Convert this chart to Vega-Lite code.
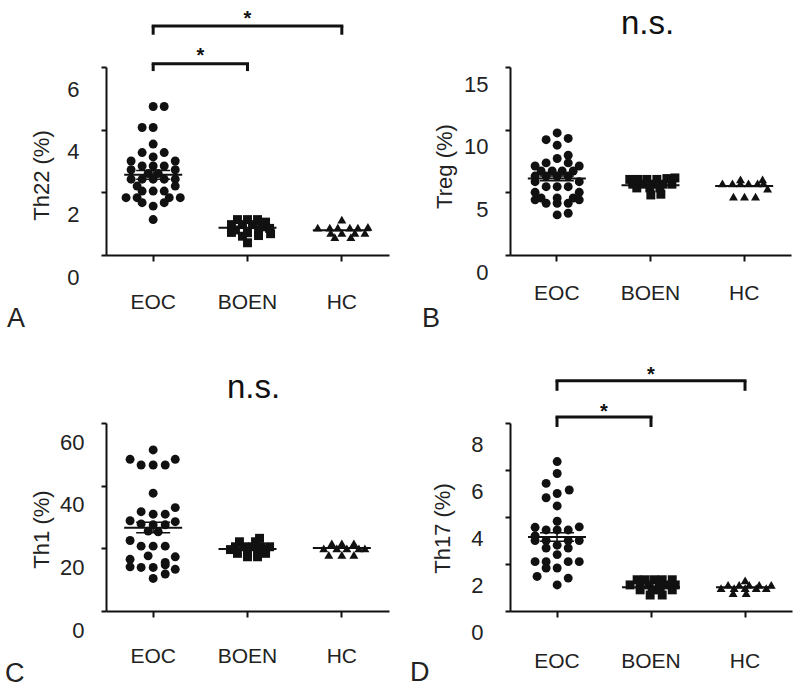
{
"$schema":"https://vega.github.io/schema/vega-lite/v6.json",
"padding":{"left":5,"top":8,"right":5,"bottom":0},
"background":"white",
"config":{"view":{"stroke":null},"font":"Liberation Sans",
"axis":{"domainColor":"#111","domainWidth":2,"tickColor":"#111","tickWidth":2,"labelColor":"#222","titleColor":"#222","labelFont":"Liberation Sans","titleFont":"Liberation Sans","titleFontWeight":"normal","grid":false,"labelFontSize":22,"titleFontSize":22,"labelOverlap":false},
"axisX":{"labelFontSize":21,"tickSize":6},
"axisY":{"tickSize":5},
"title":{"fontWeight":"normal","fontSize":27,"font":"Liberation Sans","color":"#222"}},
"datasets":{
"pts":[
{"p":"A","g":"EOC","v":4.74,"j":0},{"p":"A","g":"EOC","v":4.74,"j":11},{"p":"A","g":"EOC","v":4.07,"j":-11},{"p":"A","g":"EOC","v":4.07,"j":0},{"p":"A","g":"EOC","v":3.54,"j":0},{"p":"A","g":"EOC","v":3.27,"j":-11},{"p":"A","g":"EOC","v":3.27,"j":11},{"p":"A","g":"EOC","v":3.13,"j":0},{"p":"A","g":"EOC","v":3.0,"j":-22},{"p":"A","g":"EOC","v":3.0,"j":22},{"p":"A","g":"EOC","v":2.84,"j":-11},{"p":"A","g":"EOC","v":2.84,"j":0},{"p":"A","g":"EOC","v":2.84,"j":11},{"p":"A","g":"EOC","v":2.72,"j":-22},{"p":"A","g":"EOC","v":2.72,"j":22},{"p":"A","g":"EOC","v":2.6,"j":-5},{"p":"A","g":"EOC","v":2.6,"j":5},{"p":"A","g":"EOC","v":2.42,"j":-22},{"p":"A","g":"EOC","v":2.42,"j":-11},{"p":"A","g":"EOC","v":2.42,"j":0},{"p":"A","g":"EOC","v":2.42,"j":11},{"p":"A","g":"EOC","v":2.42,"j":22},{"p":"A","g":"EOC","v":2.2,"j":-16},{"p":"A","g":"EOC","v":2.2,"j":22},{"p":"A","g":"EOC","v":2.04,"j":-11},{"p":"A","g":"EOC","v":2.04,"j":0},{"p":"A","g":"EOC","v":2.04,"j":11},{"p":"A","g":"EOC","v":1.83,"j":-27},{"p":"A","g":"EOC","v":1.83,"j":-16},{"p":"A","g":"EOC","v":1.83,"j":16},{"p":"A","g":"EOC","v":1.83,"j":27},{"p":"A","g":"EOC","v":1.67,"j":-11},{"p":"A","g":"EOC","v":1.67,"j":11},{"p":"A","g":"EOC","v":1.56,"j":0},{"p":"A","g":"EOC","v":1.13,"j":0},
{"p":"A","g":"BOEN","v":1.13,"j":-10},{"p":"A","g":"BOEN","v":1.13,"j":0},{"p":"A","g":"BOEN","v":1.13,"j":10},{"p":"A","g":"BOEN","v":1.05,"j":18},{"p":"A","g":"BOEN","v":0.97,"j":-16},{"p":"A","g":"BOEN","v":0.97,"j":-5},{"p":"A","g":"BOEN","v":0.97,"j":5},{"p":"A","g":"BOEN","v":0.9,"j":14},{"p":"A","g":"BOEN","v":0.85,"j":22},{"p":"A","g":"BOEN","v":0.8,"j":-12},{"p":"A","g":"BOEN","v":0.72,"j":-16},{"p":"A","g":"BOEN","v":0.71,"j":0},{"p":"A","g":"BOEN","v":0.71,"j":11},{"p":"A","g":"BOEN","v":0.68,"j":23},{"p":"A","g":"BOEN","v":0.6,"j":-5},{"p":"A","g":"BOEN","v":0.62,"j":11},{"p":"A","g":"BOEN","v":0.39,"j":0},
{"p":"A","g":"HC","v":1.13,"j":0},{"p":"A","g":"HC","v":0.87,"j":-24},{"p":"A","g":"HC","v":0.87,"j":-12},{"p":"A","g":"HC","v":0.87,"j":-4},{"p":"A","g":"HC","v":0.87,"j":8},{"p":"A","g":"HC","v":0.87,"j":16},{"p":"A","g":"HC","v":0.9,"j":26},{"p":"A","g":"HC","v":0.71,"j":-11},{"p":"A","g":"HC","v":0.71,"j":0},{"p":"A","g":"HC","v":0.71,"j":13},{"p":"A","g":"HC","v":0.71,"j":23},{"p":"A","g":"HC","v":0.57,"j":-7},{"p":"A","g":"HC","v":0.57,"j":9},
{"p":"B","g":"EOC","v":9.74,"j":0},{"p":"B","g":"EOC","v":9.2,"j":-11},{"p":"B","g":"EOC","v":9.3,"j":11},{"p":"B","g":"EOC","v":8.76,"j":0},{"p":"B","g":"EOC","v":7.96,"j":11},{"p":"B","g":"EOC","v":7.7,"j":0},{"p":"B","g":"EOC","v":7.35,"j":-11},{"p":"B","g":"EOC","v":7.35,"j":11},{"p":"B","g":"EOC","v":7.1,"j":-22},{"p":"B","g":"EOC","v":7.1,"j":22},{"p":"B","g":"EOC","v":6.7,"j":-16},{"p":"B","g":"EOC","v":6.7,"j":-5},{"p":"B","g":"EOC","v":6.7,"j":5},{"p":"B","g":"EOC","v":6.7,"j":16},{"p":"B","g":"EOC","v":6.3,"j":-22},{"p":"B","g":"EOC","v":6.3,"j":-11},{"p":"B","g":"EOC","v":6.3,"j":0},{"p":"B","g":"EOC","v":6.3,"j":11},{"p":"B","g":"EOC","v":5.85,"j":-22},{"p":"B","g":"EOC","v":5.85,"j":22},{"p":"B","g":"EOC","v":5.45,"j":-11},{"p":"B","g":"EOC","v":5.45,"j":0},{"p":"B","g":"EOC","v":5.45,"j":11},{"p":"B","g":"EOC","v":5.0,"j":-22},{"p":"B","g":"EOC","v":5.0,"j":22},{"p":"B","g":"EOC","v":4.55,"j":-16},{"p":"B","g":"EOC","v":4.55,"j":0},{"p":"B","g":"EOC","v":4.55,"j":16},{"p":"B","g":"EOC","v":4.4,"j":-22},{"p":"B","g":"EOC","v":4.4,"j":22},{"p":"B","g":"EOC","v":4.13,"j":-11},{"p":"B","g":"EOC","v":4.13,"j":0},{"p":"B","g":"EOC","v":4.13,"j":11},{"p":"B","g":"EOC","v":3.2,"j":0},{"p":"B","g":"EOC","v":3.33,"j":11},
{"p":"B","g":"BOEN","v":6.03,"j":-21},{"p":"B","g":"BOEN","v":6.03,"j":-13},{"p":"B","g":"BOEN","v":6.03,"j":-4},{"p":"B","g":"BOEN","v":6.03,"j":6},{"p":"B","g":"BOEN","v":6.1,"j":16},{"p":"B","g":"BOEN","v":6.15,"j":24},{"p":"B","g":"BOEN","v":5.65,"j":-18},{"p":"B","g":"BOEN","v":5.65,"j":-8},{"p":"B","g":"BOEN","v":5.65,"j":2},{"p":"B","g":"BOEN","v":5.65,"j":12},{"p":"B","g":"BOEN","v":5.65,"j":21},{"p":"B","g":"BOEN","v":5.35,"j":-14},{"p":"B","g":"BOEN","v":5.35,"j":-1},{"p":"B","g":"BOEN","v":5.35,"j":9},{"p":"B","g":"BOEN","v":4.79,"j":0},{"p":"B","g":"BOEN","v":4.85,"j":10},
{"p":"B","g":"HC","v":5.71,"j":-22},{"p":"B","g":"HC","v":5.71,"j":-12},{"p":"B","g":"HC","v":5.71,"j":-4},{"p":"B","g":"HC","v":5.71,"j":4},{"p":"B","g":"HC","v":5.71,"j":13},{"p":"B","g":"HC","v":5.71,"j":19},{"p":"B","g":"HC","v":6.03,"j":-4},{"p":"B","g":"HC","v":6.03,"j":18},{"p":"B","g":"HC","v":5.3,"j":23},{"p":"B","g":"HC","v":4.66,"j":-11},{"p":"B","g":"HC","v":4.66,"j":0},{"p":"B","g":"HC","v":4.66,"j":11},
{"p":"C","g":"EOC","v":51.4,"j":0},{"p":"C","g":"EOC","v":48.4,"j":-23},{"p":"C","g":"EOC","v":48.4,"j":22},{"p":"C","g":"EOC","v":46.6,"j":-12},{"p":"C","g":"EOC","v":46.6,"j":0},{"p":"C","g":"EOC","v":46.6,"j":12},{"p":"C","g":"EOC","v":37.6,"j":0},{"p":"C","g":"EOC","v":33.0,"j":22},{"p":"C","g":"EOC","v":31.7,"j":-12},{"p":"C","g":"EOC","v":30.9,"j":0},{"p":"C","g":"EOC","v":30.9,"j":12},{"p":"C","g":"EOC","v":28.8,"j":-23},{"p":"C","g":"EOC","v":28.5,"j":22},{"p":"C","g":"EOC","v":27.8,"j":-12},{"p":"C","g":"EOC","v":27.5,"j":0},{"p":"C","g":"EOC","v":27.5,"j":12},{"p":"C","g":"EOC","v":25.5,"j":-5},{"p":"C","g":"EOC","v":25.3,"j":5},{"p":"C","g":"EOC","v":22.5,"j":-23},{"p":"C","g":"EOC","v":20.7,"j":-12},{"p":"C","g":"EOC","v":20.7,"j":0},{"p":"C","g":"EOC","v":20.7,"j":12},{"p":"C","g":"EOC","v":17.6,"j":-5},{"p":"C","g":"EOC","v":17.3,"j":22},{"p":"C","g":"EOC","v":16.5,"j":-23},{"p":"C","g":"EOC","v":15.5,"j":12},{"p":"C","g":"EOC","v":14.7,"j":12},{"p":"C","g":"EOC","v":14.1,"j":-23},{"p":"C","g":"EOC","v":13.9,"j":-12},{"p":"C","g":"EOC","v":13.9,"j":0},{"p":"C","g":"EOC","v":13.3,"j":22},{"p":"C","g":"EOC","v":11.8,"j":12},{"p":"C","g":"EOC","v":10.4,"j":0},
{"p":"C","g":"BOEN","v":23.2,"j":12},{"p":"C","g":"BOEN","v":22.1,"j":-8},{"p":"C","g":"BOEN","v":22.1,"j":8},{"p":"C","g":"BOEN","v":20.5,"j":-12},{"p":"C","g":"BOEN","v":20.5,"j":-3},{"p":"C","g":"BOEN","v":20.5,"j":5},{"p":"C","g":"BOEN","v":20.5,"j":13},{"p":"C","g":"BOEN","v":20.5,"j":22},{"p":"C","g":"BOEN","v":19.6,"j":-17},{"p":"C","g":"BOEN","v":19.6,"j":18},{"p":"C","g":"BOEN","v":18.4,"j":-10},{"p":"C","g":"BOEN","v":18.4,"j":0},{"p":"C","g":"BOEN","v":18.4,"j":10},{"p":"C","g":"BOEN","v":18.4,"j":18},{"p":"C","g":"BOEN","v":17.3,"j":0},{"p":"C","g":"BOEN","v":17.3,"j":10},
{"p":"C","g":"HC","v":21.6,"j":-10},{"p":"C","g":"HC","v":21.6,"j":0},{"p":"C","g":"HC","v":21.6,"j":12},{"p":"C","g":"HC","v":20.0,"j":-18},{"p":"C","g":"HC","v":20.0,"j":-5},{"p":"C","g":"HC","v":20.0,"j":5},{"p":"C","g":"HC","v":20.0,"j":17},{"p":"C","g":"HC","v":20.0,"j":23},{"p":"C","g":"HC","v":17.9,"j":-13},{"p":"C","g":"HC","v":17.9,"j":0},{"p":"C","g":"HC","v":17.9,"j":12},
{"p":"D","g":"EOC","v":6.36,"j":0},{"p":"D","g":"EOC","v":5.85,"j":0},{"p":"D","g":"EOC","v":5.43,"j":-11},{"p":"D","g":"EOC","v":5.15,"j":12},{"p":"D","g":"EOC","v":5.0,"j":0},{"p":"D","g":"EOC","v":4.82,"j":-11},{"p":"D","g":"EOC","v":4.47,"j":0},{"p":"D","g":"EOC","v":3.82,"j":0},{"p":"D","g":"EOC","v":3.56,"j":-22},{"p":"D","g":"EOC","v":3.58,"j":22},{"p":"D","g":"EOC","v":3.45,"j":-11},{"p":"D","g":"EOC","v":3.45,"j":0},{"p":"D","g":"EOC","v":3.45,"j":11},{"p":"D","g":"EOC","v":3.2,"j":-22},{"p":"D","g":"EOC","v":3.0,"j":-22},{"p":"D","g":"EOC","v":3.0,"j":-11},{"p":"D","g":"EOC","v":3.0,"j":11},{"p":"D","g":"EOC","v":3.0,"j":22},{"p":"D","g":"EOC","v":2.8,"j":0},{"p":"D","g":"EOC","v":2.68,"j":-11},{"p":"D","g":"EOC","v":2.68,"j":11},{"p":"D","g":"EOC","v":2.4,"j":0},{"p":"D","g":"EOC","v":2.1,"j":-22},{"p":"D","g":"EOC","v":2.1,"j":-11},{"p":"D","g":"EOC","v":2.1,"j":11},{"p":"D","g":"EOC","v":2.1,"j":22},{"p":"D","g":"EOC","v":1.83,"j":-11},{"p":"D","g":"EOC","v":1.83,"j":0},{"p":"D","g":"EOC","v":1.47,"j":-20},{"p":"D","g":"EOC","v":1.4,"j":11},{"p":"D","g":"EOC","v":1.11,"j":0},
{"p":"D","g":"BOEN","v":1.33,"j":-14},{"p":"D","g":"BOEN","v":1.33,"j":-6},{"p":"D","g":"BOEN","v":1.33,"j":3},{"p":"D","g":"BOEN","v":1.33,"j":11},{"p":"D","g":"BOEN","v":1.33,"j":21},{"p":"D","g":"BOEN","v":1.11,"j":-21},{"p":"D","g":"BOEN","v":1.11,"j":-11},{"p":"D","g":"BOEN","v":1.11,"j":-2},{"p":"D","g":"BOEN","v":1.11,"j":8},{"p":"D","g":"BOEN","v":1.11,"j":16},{"p":"D","g":"BOEN","v":1.11,"j":24},{"p":"D","g":"BOEN","v":0.9,"j":-11},{"p":"D","g":"BOEN","v":0.9,"j":1},{"p":"D","g":"BOEN","v":0.9,"j":9},{"p":"D","g":"BOEN","v":0.9,"j":21},{"p":"D","g":"BOEN","v":0.68,"j":-1},{"p":"D","g":"BOEN","v":0.68,"j":11},
{"p":"D","g":"HC","v":1.3,"j":0},{"p":"D","g":"HC","v":1.11,"j":-17},{"p":"D","g":"HC","v":1.11,"j":-6},{"p":"D","g":"HC","v":1.11,"j":4},{"p":"D","g":"HC","v":1.11,"j":14},{"p":"D","g":"HC","v":1.11,"j":26},{"p":"D","g":"HC","v":0.97,"j":-24},{"p":"D","g":"HC","v":0.97,"j":-11},{"p":"D","g":"HC","v":0.97,"j":0},{"p":"D","g":"HC","v":0.97,"j":11},{"p":"D","g":"HC","v":0.97,"j":21},{"p":"D","g":"HC","v":0.76,"j":-12},{"p":"D","g":"HC","v":0.76,"j":1}
],
"sum":[
{"p":"A","g":"EOC","m":2.56,"lo":2.42,"hi":2.7},{"p":"A","g":"BOEN","m":0.87},{"p":"A","g":"HC","m":0.79},
{"p":"B","g":"EOC","m":6.11,"lo":5.92,"hi":6.3},{"p":"B","g":"BOEN","m":5.56},{"p":"B","g":"HC","m":5.5},
{"p":"C","g":"EOC","m":26.6,"lo":25.0,"hi":28.3},{"p":"C","g":"BOEN","m":19.8},{"p":"C","g":"HC","m":20.1},
{"p":"D","g":"EOC","m":3.15,"lo":2.97,"hi":3.33},{"p":"D","g":"BOEN","m":1.01},{"p":"D","g":"HC","m":1.01}
],
"br":[
{"p":"A","k":"s","g1":"EOC","g2":"BOEN","y":6.1,"ye":5.87,"sx":"BOEN","sy":6.51,"t":"*"},
{"p":"A","k":"l","g1":"EOC","g2":"HC","y":7.31,"ye":7.03,"sx":"BOEN","sy":7.7,"t":"*"},
{"p":"D","k":"s","g1":"EOC","g2":"BOEN","y":8.26,"ye":7.83,"sx":"BOEN","sy":8.68,"t":"*"},
{"p":"D","k":"l","g1":"EOC","g2":"HC","y":9.8,"ye":9.37,"sx":"BOEN","sy":10.27,"t":"*"}
],
"ns":[
{"p":"B","sx":"BOEN","sy":17.6,"t":"n.s."},
{"p":"C","sx":"BOEN","sy":68,"t":"n.s."}
]
},
"bounds":"flush",
"columns":2,
"spacing":{"row":168,"column":121},
"concat":[
{"width":283,"height":188,
"title":{"text":"A","orient":"bottom","anchor":"start","frame":"group","dx":-99,"offset":15,"baseline":"alphabetic"},
"layer":[
{"data":{"name":"pts"},"transform":[{"filter":"datum.p === 'A'"}],
"mark":{"type":"point","filled":true,"opacity":1,"color":"#111","size":80,"strokeWidth":0},
"encoding":{
"x":{"field":"g","type":"nominal","scale":{"type":"band","domain":["EOC","BOEN","HC"],"paddingInner":0,"paddingOuter":0},"axis":{"title":null,"labelAngle":0,"labelPadding":30}},
"xOffset":{"field":"j","type":"quantitative","scale":{"domain":[-47,47]}},
"y":{"field":"v","type":"quantitative","scale":{"domain":[0,6],"nice":false},"axis":{"values":[0,2,4,6],"title":"Th22 (%)","labelOffset":22,"labelPadding":22,"titleX":-65,"titleY":108,"titleBaseline":"middle"}},
"shape":{"field":"g","type":"nominal","scale":{"domain":["EOC","BOEN","HC"],"range":["circle","square","triangle-up"]},"legend":null}}},
{"data":{"name":"sum"},"transform":[{"filter":"datum.p === 'A'"}],
"mark":{"type":"tick","color":"#111","opacity":1,"thickness":2,"size":58},
"encoding":{"x":{"field":"g","type":"nominal"},"y":{"field":"m","type":"quantitative"}}},
{"data":{"name":"sum"},"transform":[{"filter":"datum.p === 'A' && datum.g === 'EOC'"}],
"mark":{"type":"rule","color":"#111","strokeWidth":1.5},
"encoding":{"x":{"field":"g","type":"nominal"},"y":{"field":"lo","type":"quantitative"},"y2":{"field":"hi"}}},
{"data":{"name":"sum"},"transform":[{"filter":"datum.p === 'A' && datum.g === 'EOC'"}],
"mark":{"type":"tick","color":"#111","opacity":1,"thickness":1.5,"size":34},
"encoding":{"x":{"field":"g","type":"nominal"},"y":{"field":"lo","type":"quantitative"}}},
{"data":{"name":"sum"},"transform":[{"filter":"datum.p === 'A' && datum.g === 'EOC'"}],
"mark":{"type":"tick","color":"#111","opacity":1,"thickness":1.5,"size":34},
"encoding":{"x":{"field":"g","type":"nominal"},"y":{"field":"hi","type":"quantitative"}}},
{"data":{"name":"br"},"transform":[{"filter":"datum.p === 'A'"}],
"mark":{"type":"rule","color":"#111","strokeWidth":3,"strokeCap":"square"},
"encoding":{"x":{"field":"g1","type":"nominal","bandPosition":0.5},"x2":{"field":"g2","bandPosition":0.5},"y":{"field":"y","type":"quantitative"}}},
{"data":{"name":"br"},"transform":[{"filter":"datum.p === 'A'"}],
"mark":{"type":"rule","color":"#111","strokeWidth":3},
"encoding":{"x":{"field":"g1","type":"nominal","bandPosition":0.5},"y":{"field":"y","type":"quantitative"},"y2":{"field":"ye"}}},
{"data":{"name":"br"},"transform":[{"filter":"datum.p === 'A'"}],
"mark":{"type":"rule","color":"#111","strokeWidth":3},
"encoding":{"x":{"field":"g2","type":"nominal","bandPosition":0.5},"y":{"field":"y","type":"quantitative"},"y2":{"field":"ye"}}},
{"data":{"name":"br"},"transform":[{"filter":"datum.p === 'A' && datum.k === 's'"}],
"mark":{"type":"text","fontSize":20,"fontWeight":"bold","baseline":"middle","dy":5,"color":"#111"},
"encoding":{"x":{"field":"sx","type":"nominal","bandPosition":0},"y":{"field":"sy","type":"quantitative"},"text":{"field":"t"}}},
{"data":{"name":"br"},"transform":[{"filter":"datum.p === 'A' && datum.k === 'l'"}],
"mark":{"type":"text","fontSize":20,"fontWeight":"bold","baseline":"middle","dy":5,"color":"#111"},
"encoding":{"x":{"field":"sx","type":"nominal","bandPosition":0.5},"y":{"field":"sy","type":"quantitative"},"text":{"field":"t"}}}
]},
{"width":281,"height":188,
"title":{"text":"B","orient":"bottom","anchor":"start","frame":"group","dx":-88,"offset":24,"baseline":"alphabetic"},
"layer":[
{"data":{"name":"pts"},"transform":[{"filter":"datum.p === 'B'"}],
"mark":{"type":"point","filled":true,"opacity":1,"color":"#111","size":80,"strokeWidth":0},
"encoding":{
"x":{"field":"g","type":"nominal","scale":{"type":"band","domain":["EOC","BOEN","HC"],"paddingInner":0,"paddingOuter":0},"axis":{"title":null,"labelAngle":0,"labelPadding":21}},
"xOffset":{"field":"j","type":"quantitative","scale":{"domain":[-47,47]}},
"y":{"field":"v","type":"quantitative","scale":{"domain":[0,15],"nice":false},"axis":{"values":[0,5,10,15],"title":"Treg (%)","labelOffset":17,"labelPadding":17,"titleX":-66,"titleY":99,"titleBaseline":"middle"}},
"shape":{"field":"g","type":"nominal","scale":{"domain":["EOC","BOEN","HC"],"range":["circle","square","triangle-up"]},"legend":null}}},
{"data":{"name":"sum"},"transform":[{"filter":"datum.p === 'B'"}],
"mark":{"type":"tick","color":"#111","opacity":1,"thickness":2,"size":58},
"encoding":{"x":{"field":"g","type":"nominal"},"y":{"field":"m","type":"quantitative"}}},
{"data":{"name":"sum"},"transform":[{"filter":"datum.p === 'B' && datum.g === 'EOC'"}],
"mark":{"type":"rule","color":"#111","strokeWidth":1.5},
"encoding":{"x":{"field":"g","type":"nominal"},"y":{"field":"lo","type":"quantitative"},"y2":{"field":"hi"}}},
{"data":{"name":"sum"},"transform":[{"filter":"datum.p === 'B' && datum.g === 'EOC'"}],
"mark":{"type":"tick","color":"#111","opacity":1,"thickness":1.5,"size":34},
"encoding":{"x":{"field":"g","type":"nominal"},"y":{"field":"lo","type":"quantitative"}}},
{"data":{"name":"sum"},"transform":[{"filter":"datum.p === 'B' && datum.g === 'EOC'"}],
"mark":{"type":"tick","color":"#111","opacity":1,"thickness":1.5,"size":34},
"encoding":{"x":{"field":"g","type":"nominal"},"y":{"field":"hi","type":"quantitative"}}},
{"data":{"name":"ns"},"transform":[{"filter":"datum.p === 'B'"}],
"mark":{"type":"text","fontSize":33,"baseline":"alphabetic","color":"#111","dx":-3},
"encoding":{"x":{"field":"sx","type":"nominal"},"y":{"field":"sy","type":"quantitative"},"text":{"field":"t"}}}
]},
{"width":283,"height":188,
"title":{"text":"C","orient":"bottom","anchor":"start","frame":"group","dx":-101,"offset":16,"baseline":"alphabetic"},
"layer":[
{"data":{"name":"pts"},"transform":[{"filter":"datum.p === 'C'"}],
"mark":{"type":"point","filled":true,"opacity":1,"color":"#111","size":80,"strokeWidth":0},
"encoding":{
"x":{"field":"g","type":"nominal","scale":{"type":"band","domain":["EOC","BOEN","HC"],"paddingInner":0,"paddingOuter":0},"axis":{"title":null,"labelAngle":0,"labelPadding":28}},
"xOffset":{"field":"j","type":"quantitative","scale":{"domain":[-47,47]}},
"y":{"field":"v","type":"quantitative","scale":{"domain":[0,60],"nice":false},"axis":{"values":[0,20,40,60],"title":"Th1 (%)","labelOffset":19,"labelPadding":17,"titleX":-65,"titleY":106,"titleBaseline":"middle"}},
"shape":{"field":"g","type":"nominal","scale":{"domain":["EOC","BOEN","HC"],"range":["circle","square","triangle-up"]},"legend":null}}},
{"data":{"name":"sum"},"transform":[{"filter":"datum.p === 'C'"}],
"mark":{"type":"tick","color":"#111","opacity":1,"thickness":2,"size":58},
"encoding":{"x":{"field":"g","type":"nominal"},"y":{"field":"m","type":"quantitative"}}},
{"data":{"name":"sum"},"transform":[{"filter":"datum.p === 'C' && datum.g === 'EOC'"}],
"mark":{"type":"rule","color":"#111","strokeWidth":1.5},
"encoding":{"x":{"field":"g","type":"nominal"},"y":{"field":"lo","type":"quantitative"},"y2":{"field":"hi"}}},
{"data":{"name":"sum"},"transform":[{"filter":"datum.p === 'C' && datum.g === 'EOC'"}],
"mark":{"type":"tick","color":"#111","opacity":1,"thickness":1.5,"size":34},
"encoding":{"x":{"field":"g","type":"nominal"},"y":{"field":"lo","type":"quantitative"}}},
{"data":{"name":"sum"},"transform":[{"filter":"datum.p === 'C' && datum.g === 'EOC'"}],
"mark":{"type":"tick","color":"#111","opacity":1,"thickness":1.5,"size":34},
"encoding":{"x":{"field":"g","type":"nominal"},"y":{"field":"hi","type":"quantitative"}}},
{"data":{"name":"ns"},"transform":[{"filter":"datum.p === 'C'"}],
"mark":{"type":"text","fontSize":33,"baseline":"alphabetic","color":"#111","dx":6},
"encoding":{"x":{"field":"sx","type":"nominal"},"y":{"field":"sy","type":"quantitative"},"text":{"field":"t"}}}
]},
{"width":282,"height":188,
"title":{"text":"D","orient":"bottom","anchor":"start","frame":"group","dx":-100,"offset":10,"baseline":"alphabetic"},
"layer":[
{"data":{"name":"pts"},"transform":[{"filter":"datum.p === 'D'"}],
"mark":{"type":"point","filled":true,"opacity":1,"color":"#111","size":80,"strokeWidth":0},
"encoding":{
"x":{"field":"g","type":"nominal","scale":{"type":"band","domain":["EOC","BOEN","HC"],"paddingInner":0,"paddingOuter":0},"axis":{"title":null,"labelAngle":0,"labelPadding":33}},
"xOffset":{"field":"j","type":"quantitative","scale":{"domain":[-47,47]}},
"y":{"field":"v","type":"quantitative","scale":{"domain":[0,8],"nice":false},"axis":{"values":[0,2,4,6,8],"title":"Th17 (%)","labelOffset":21,"labelPadding":22,"titleX":-68,"titleY":105,"titleBaseline":"middle"}},
"shape":{"field":"g","type":"nominal","scale":{"domain":["EOC","BOEN","HC"],"range":["circle","square","triangle-up"]},"legend":null}}},
{"data":{"name":"sum"},"transform":[{"filter":"datum.p === 'D'"}],
"mark":{"type":"tick","color":"#111","opacity":1,"thickness":2,"size":58},
"encoding":{"x":{"field":"g","type":"nominal"},"y":{"field":"m","type":"quantitative"}}},
{"data":{"name":"sum"},"transform":[{"filter":"datum.p === 'D' && datum.g === 'EOC'"}],
"mark":{"type":"rule","color":"#111","strokeWidth":1.5},
"encoding":{"x":{"field":"g","type":"nominal"},"y":{"field":"lo","type":"quantitative"},"y2":{"field":"hi"}}},
{"data":{"name":"sum"},"transform":[{"filter":"datum.p === 'D' && datum.g === 'EOC'"}],
"mark":{"type":"tick","color":"#111","opacity":1,"thickness":1.5,"size":34},
"encoding":{"x":{"field":"g","type":"nominal"},"y":{"field":"lo","type":"quantitative"}}},
{"data":{"name":"sum"},"transform":[{"filter":"datum.p === 'D' && datum.g === 'EOC'"}],
"mark":{"type":"tick","color":"#111","opacity":1,"thickness":1.5,"size":34},
"encoding":{"x":{"field":"g","type":"nominal"},"y":{"field":"hi","type":"quantitative"}}},
{"data":{"name":"br"},"transform":[{"filter":"datum.p === 'D'"}],
"mark":{"type":"rule","color":"#111","strokeWidth":3,"strokeCap":"square"},
"encoding":{"x":{"field":"g1","type":"nominal","bandPosition":0.5},"x2":{"field":"g2","bandPosition":0.5},"y":{"field":"y","type":"quantitative"}}},
{"data":{"name":"br"},"transform":[{"filter":"datum.p === 'D'"}],
"mark":{"type":"rule","color":"#111","strokeWidth":3},
"encoding":{"x":{"field":"g1","type":"nominal","bandPosition":0.5},"y":{"field":"y","type":"quantitative"},"y2":{"field":"ye"}}},
{"data":{"name":"br"},"transform":[{"filter":"datum.p === 'D'"}],
"mark":{"type":"rule","color":"#111","strokeWidth":3},
"encoding":{"x":{"field":"g2","type":"nominal","bandPosition":0.5},"y":{"field":"y","type":"quantitative"},"y2":{"field":"ye"}}},
{"data":{"name":"br"},"transform":[{"filter":"datum.p === 'D' && datum.k === 's'"}],
"mark":{"type":"text","fontSize":20,"fontWeight":"bold","baseline":"middle","dy":5,"color":"#111"},
"encoding":{"x":{"field":"sx","type":"nominal","bandPosition":0},"y":{"field":"sy","type":"quantitative"},"text":{"field":"t"}}},
{"data":{"name":"br"},"transform":[{"filter":"datum.p === 'D' && datum.k === 'l'"}],
"mark":{"type":"text","fontSize":20,"fontWeight":"bold","baseline":"middle","dy":5,"color":"#111"},
"encoding":{"x":{"field":"sx","type":"nominal","bandPosition":0.5},"y":{"field":"sy","type":"quantitative"},"text":{"field":"t"}}}
]}
]
}
